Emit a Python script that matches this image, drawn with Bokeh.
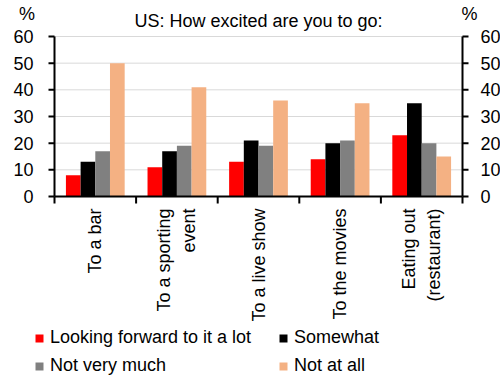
import math
from bokeh.plotting import figure
from bokeh.models import Legend, LegendItem, Range1d
from bokeh.core.properties import value
from bokeh.embed import file_html
from bokeh.resources import INLINE

# ---- data ----
categories = ["To a bar", "To a sporting\nevent", "To a live show",
              "To the movies", "Eating out\n(restaurant)"]
series_names = ["Looking forward to it a lot", "Somewhat", "Not very much", "Not at all"]
looking_forward = [8, 11, 13, 14, 23]
somewhat = [13, 17, 21, 20, 35]
not_very_much = [17, 19, 19, 21, 20]
not_at_all = [50, 41, 36, 35, 15]
y_ticks = [0, 10, 20, 30, 40, 50, 60]
title_text = "US: How excited are you to go:"
unit_label = "%"

colors = ["#ff0000", "#000000", "#808080", "#f4b183"]
FONT = value("Liberation Sans")
FS = "18px"

W, H = 500, 376
n = len(categories)
y_max = y_ticks[-1]
# frame placement (pixels on canvas) of the value area
left_px, right_px, top_px, bottom_px = 54, 462, 36, 196
sx = (right_px - left_px) / n          # px per x unit
sy = (bottom_px - top_px) / y_max      # px per y unit
x_range = Range1d(-left_px / sx, n + (W - right_px) / sx)
y_range = Range1d(-(H - bottom_px) / sy, y_max + top_px / sy)

p = figure(width=W, height=H, x_range=x_range, y_range=y_range,
           x_axis_type=None, y_axis_type=None,
           output_backend="svg", toolbar_location=None,
           min_border=0, title=None)
p.outline_line_color = None
p.xgrid.visible = False
p.ygrid.visible = False
p.background_fill_color = "white"
p.border_fill_color = "white"

# grid lines
gt = [t for t in y_ticks if t > 0]
p.segment(x0=[0] * len(gt), x1=[n] * len(gt), y0=gt, y1=gt,
          line_color="#d9d9d9", line_width=1)

# bars
bw = 0.18
offsets = [-1.5 * bw, -0.5 * bw, 0.5 * bw, 1.5 * bw]
all_series = [looking_forward, somewhat, not_very_much, not_at_all]
items = []
for name, vals, off, col in zip(series_names, all_series, offsets, colors):
    xs = [i + 0.5 + off for i in range(n)]
    r = p.vbar(x=xs, top=vals, width=bw, bottom=0, fill_color=col, line_color=None)
    items.append(LegendItem(label=name, renderers=[r]))

# axis lines
p.segment(x0=[0, n, 0], x1=[0, n, n], y0=[0, 0, 0], y1=[y_max, y_max, 0],
          line_color="black", line_width=2)
# y ticks (left and right)
p.ray(x=[0] * len(y_ticks), y=y_ticks, length=6, length_units="screen",
      angle=math.pi, line_color="black", line_width=2)
p.ray(x=[n] * len(y_ticks), y=y_ticks, length=6, length_units="screen",
      angle=0, line_color="black", line_width=2)
# x ticks at category boundaries
p.ray(x=list(range(n + 1)), y=[0] * (n + 1), length=7, length_units="screen",
      angle=-math.pi / 2, line_color="black", line_width=2)

# y tick labels
labels = [str(t) for t in y_ticks]
p.text(x=[0] * len(y_ticks), y=y_ticks, text=labels, x_offset=-21,
       text_align="right", text_baseline="middle",
       text_font=FONT, text_font_size=FS, text_color="black")
p.text(x=[n] * len(y_ticks), y=y_ticks, text=labels, x_offset=18,
       text_align="left", text_baseline="middle",
       text_font=FONT, text_font_size=FS, text_color="black")

# category labels (rotated)
p.text(x=[i + 0.5 for i in range(n)], y=[-12 / sy] * n, text=categories,
       angle=math.pi / 2, text_align="right", text_baseline="middle",
       text_line_height=1.25,
       text_font=FONT, text_font_size=FS, text_color="black")

# title and % units
p.text(x=[n / 2], y=[y_max + (top_px - 20) / sy], text=[title_text],
       text_align="center", text_baseline="middle",
       text_font=FONT, text_font_size=FS, text_color="black")
p.text(x=[-(left_px - 26.5) / sx, n + 7 / sx], y=[y_max + (top_px - 13) / sy] * 2,
       text=[unit_label, unit_label], text_align="center", text_baseline="middle",
       text_font=FONT, text_font_size=FS, text_color="black")

# legend (2 columns, filled column by column -> row-major visual order)
legend_items = [items[0], items[2], items[1], items[3]]
legend = Legend(items=legend_items, ncols=2, location=(34, 0),
                glyph_width=10, glyph_height=10, label_standoff=6, label_width=221,
                label_height=18, spacing=7, padding=0, margin=0,
                label_text_font="Liberation Sans", label_text_font_size=FS,
                label_text_color="black",
                border_line_color=None, background_fill_alpha=0)
p.add_layout(legend)

open("out.html", "w").write(file_html(p, INLINE))
